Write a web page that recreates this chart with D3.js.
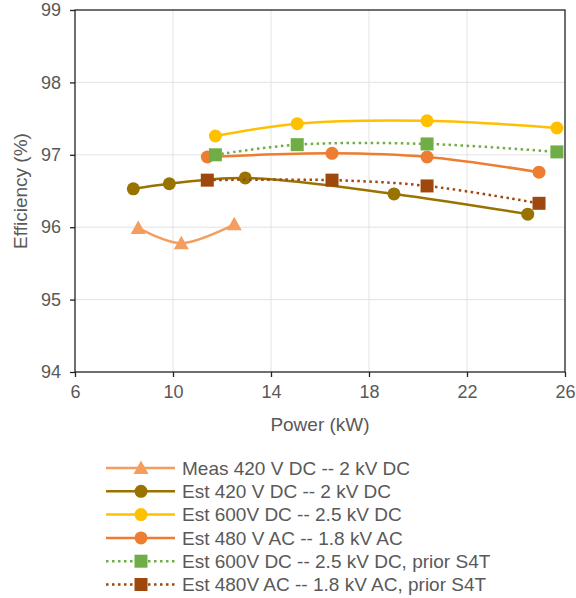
<!DOCTYPE html>
<html>
<head>
<meta charset="utf-8">
<script src="https://cdn.jsdelivr.net/npm/d3@7"></script>
<style>
  body { margin: 0; background: #fff; }
  text { font-family: 'Liberation Sans', Arial, sans-serif; fill: #595959; }
</style>
</head>
<body>
<div id="chart"></div>
<script>
// power (kW) and efficiency (%) for each curve
const measX = [8.58, 10.34, 12.5]
const measY = [95.99, 95.78, 96.04]
const est420X = [8.38, 9.85, 12.95, 19.02, 24.48]
const est420Y = [96.53, 96.6, 96.68, 96.46, 96.18]
const est600X = [11.73, 15.07, 20.37, 25.67]
const est600Y = [97.26, 97.43, 97.47, 97.37]
const est480X = [11.4, 16.49, 20.37, 24.94]
const est480Y = [96.97, 97.02, 96.97, 96.76]
const prior600X = [11.73, 15.07, 20.37, 25.67]
const prior600Y = [97.0, 97.14, 97.15, 97.04]
const prior480X = [11.4, 16.49, 20.37, 24.94]
const prior480Y = [96.65, 96.65, 96.57, 96.33]

const xTicks = [6, 10, 14, 18, 22, 26]
const yTicks = [94, 95, 96, 97, 98, 99]

const series = [
  { name: 'Meas 420 V DC -- 2 kV DC', xs: measX, ys: measY, color: '#F59D5E', marker: 'triangle', dotted: false },
  { name: 'Est 420 V DC -- 2 kV DC', xs: est420X, ys: est420Y, color: '#997300', marker: 'circle', dotted: false },
  { name: 'Est 600V DC -- 2.5 kV DC', xs: est600X, ys: est600Y, color: '#FFC000', marker: 'circle', dotted: false },
  { name: 'Est 480 V AC -- 1.8 kV AC', xs: est480X, ys: est480Y, color: '#ED7D31', marker: 'circle', dotted: false },
  { name: 'Est 600V DC -- 2.5 kV DC, prior S4T', xs: prior600X, ys: prior600Y, color: '#70AD47', marker: 'square', dotted: true },
  { name: 'Est 480V AC -- 1.8 kV AC, prior S4T', xs: prior480X, ys: prior480Y, color: '#9E480E', marker: 'square', dotted: true }
]

const width = 576
const height = 598
const margin = { top: 10, right: 11, bottom: 226, left: 75 }
const tickFont = '18px'
const labelFont = '19px'

const svg = d3.select('#chart').append('svg')
  .attr('width', width)
  .attr('height', height)

const x = d3.scaleLinear().domain([6, 26]).range([margin.left, width - margin.right])
const y = d3.scaleLinear().domain([94, 99]).range([height - margin.bottom, margin.top])

// grid
svg.append('g')
  .attr('stroke', '#e3e3e3')
  .attr('stroke-width', 1)
  .call(g => g.selectAll('.v').data(xTicks.slice(1, -1)).join('line')
    .attr('x1', d => x(d)).attr('x2', d => x(d))
    .attr('y1', y(94)).attr('y2', y(99)))
  .call(g => g.selectAll('.h').data(yTicks.slice(1, -1)).join('line')
    .attr('y1', d => y(d)).attr('y2', d => y(d))
    .attr('x1', x(6)).attr('x2', x(26)))

// frame
svg.append('rect')
  .attr('x', x(6)).attr('y', y(99))
  .attr('width', x(26) - x(6)).attr('height', y(94) - y(99))
  .attr('fill', 'none').attr('stroke', '#222').attr('stroke-width', 1.3)

const xAxis = svg.append('g')
  .attr('transform', `translate(0,${y(94)})`)
  .call(d3.axisBottom(x).tickValues(xTicks).tickFormat(d3.format('d')).tickSize(5).tickPadding(8))
const yAxis = svg.append('g')
  .attr('transform', `translate(${x(6)},0)`)
  .call(d3.axisLeft(y).tickValues(yTicks).tickFormat(d3.format('d')).tickSize(5).tickPadding(9))

for (const ax of [xAxis, yAxis]) {
  ax.select('.domain').remove()
  ax.selectAll('line').attr('stroke', '#222').attr('stroke-width', 1.3)
  ax.selectAll('text').style('font-size', tickFont).attr('fill', '#595959')
}

svg.append('text')
  .attr('x', (x(6) + x(26)) / 2).attr('y', 431)
  .attr('text-anchor', 'middle')
  .style('font-size', labelFont)
  .text('Power (kW)')

svg.append('text')
  .attr('transform', `translate(27,${(y(94) + y(99)) / 2}) rotate(-90)`)
  .attr('text-anchor', 'middle')
  .style('font-size', labelFont)
  .text('Efficiency (%)')

const line = d3.line().curve(d3.curveCatmullRom.alpha(0.5))

function drawMarker (g, type, color, cx, cy) {
  if (type === 'circle') {
    g.append('circle').attr('cx', cx).attr('cy', cy).attr('r', 6.5).attr('fill', color)
  } else if (type === 'square') {
    g.append('rect').attr('x', cx - 6.5).attr('y', cy - 6.5).attr('width', 13).attr('height', 13).attr('fill', color)
  } else {
    g.append('path')
      .attr('d', `M${cx},${cy - 7.5}L${cx + 7.5},${cy + 6}L${cx - 7.5},${cy + 6}Z`)
      .attr('fill', color)
  }
}

const plot = svg.append('g')
series.forEach(s => {
  const pts = s.xs.map((v, i) => [x(v), y(s.ys[i])])
  const g = plot.append('g')
  g.append('path')
    .attr('d', line(pts))
    .attr('fill', 'none')
    .attr('stroke', s.color)
    .attr('stroke-width', 2.5)
    .attr('stroke-dasharray', s.dotted ? '2.5,3.5' : null)
  pts.forEach(p => drawMarker(g, s.marker, s.color, p[0], p[1]))
})

// legend
const legend = svg.append('g')
series.forEach((s, i) => {
  const ly = 468 + i * 23.3
  const g = legend.append('g')
  g.append('line')
    .attr('x1', 106).attr('x2', 175).attr('y1', ly).attr('y2', ly)
    .attr('stroke', s.color).attr('stroke-width', 2.5)
    .attr('stroke-dasharray', s.dotted ? '2.5,3.5' : null)
  drawMarker(g, s.marker, s.color, 141, ly)
  g.append('text')
    .attr('x', 182).attr('y', ly).attr('dy', '0.35em')
    .style('font-size', labelFont)
    .text(s.name)
})
</script>
</body>
</html>
